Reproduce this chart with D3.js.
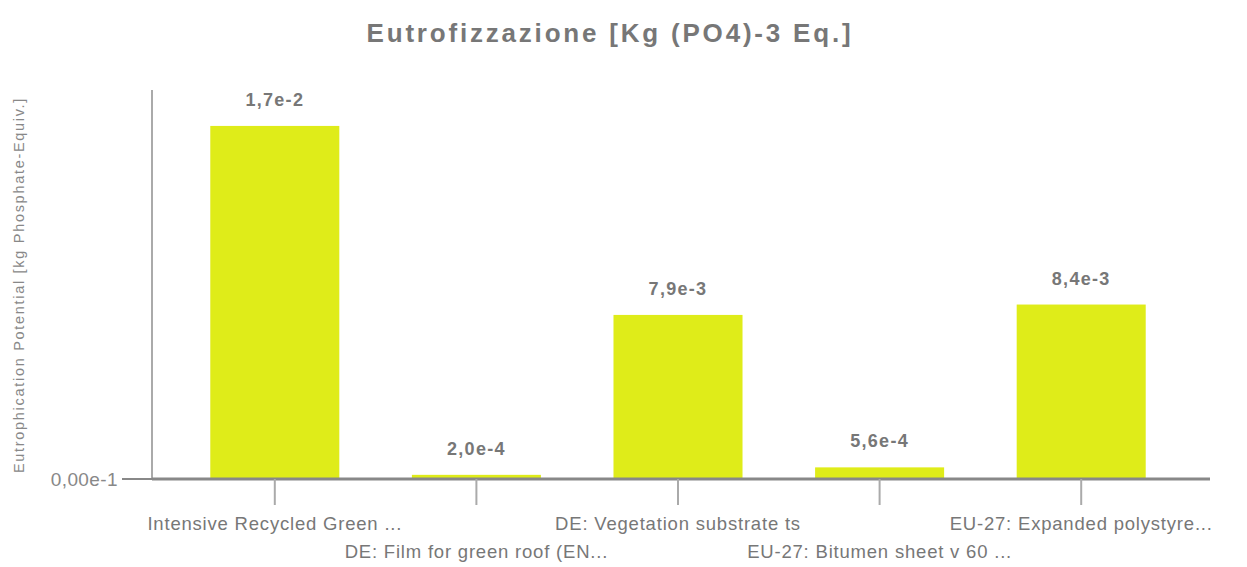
<!DOCTYPE html>
<html>
<head>
<meta charset="utf-8">
<script src="https://cdn.jsdelivr.net/npm/d3@7"></script>
<style>
  body { margin: 0; background: #fff; }
  text { font-family: "Liberation Sans", Arial, sans-serif; }
</style>
</head>
<body>
<svg id="chart" width="1247" height="567"></svg>
<script>
// chart data
const categories = [
  "Intensive Recycled Green ...",
  "DE: Film for green roof (EN...",
  "DE: Vegetation substrate ts",
  "EU-27: Bitumen sheet v 60 ...",
  "EU-27: Expanded polystyre..."
];
const values = [0.0170, 0.00020, 0.0079, 0.00056, 0.0084];
const valueLabels = ["1,7e-2", "2,0e-4", "7,9e-3", "5,6e-4", "8,4e-3"];
const yTickLabel = "0,00e-1";

const svg = d3.select("#chart");

// scales
const xScale = d3.scaleBand()
    .domain(categories)
    .range([174, 1182])
    .paddingInner(0.36)
    .paddingOuter(0.18);

const yScale = d3.scaleLinear()
    .domain([0, 0.01873])
    .range([479, 90]);

// title
svg.append("text")
    .attr("x", 610)
    .attr("y", 42)
    .attr("text-anchor", "middle")
    .attr("font-size", 26)
    .attr("font-weight", "bold")
    .attr("letter-spacing", 2.8)
    .attr("fill", "#777")
    .text("Eutrofizzazione [Kg (PO4)-3 Eq.]");

// y axis label
svg.append("text")
    .attr("transform", `translate(24,${285}) rotate(-90)`)
    .attr("text-anchor", "middle")
    .attr("font-size", 14.5)
    .attr("letter-spacing", 1.7)
    .attr("fill", "#888")
    .text("Eutrophication Potential [kg Phosphate-Equiv.]");

// bars
svg.selectAll(".bar")
    .data(values)
    .join("rect")
    .attr("class", "bar")
    .attr("x", (d, i) => xScale(categories[i]))
    .attr("width", xScale.bandwidth())
    .attr("y", d => yScale(d))
    .attr("height", d => yScale(0) - yScale(d))
    .attr("fill", "#dfec19");

// value labels
svg.selectAll(".val")
    .data(values)
    .join("text")
    .attr("class", "val")
    .attr("x", (d, i) => xScale(categories[i]) + xScale.bandwidth() / 2)
    .attr("y", d => yScale(d) - 20)
    .attr("text-anchor", "middle")
    .attr("font-size", 18)
    .attr("font-weight", "bold")
    .attr("letter-spacing", 1.3)
    .attr("fill", "#777")
    .text((d, i) => valueLabels[i]);

// y axis line
svg.append("line")
    .attr("x1", 152).attr("x2", 152)
    .attr("y1", 90).attr("y2", 480)
    .attr("stroke", "#aaa")
    .attr("stroke-width", 2);

// y tick
svg.append("line")
    .attr("x1", 122).attr("x2", 152)
    .attr("y1", yScale(0)).attr("y2", yScale(0))
    .attr("stroke", "#888")
    .attr("stroke-width", 2);
svg.append("text")
    .attr("x", 118)
    .attr("y", yScale(0) + 7)
    .attr("text-anchor", "end")
    .attr("font-size", 19)
    .attr("letter-spacing", 0.4)
    .attr("fill", "#888")
    .text(yTickLabel);

// x axis
const xAxis = svg.append("g")
    .attr("transform", `translate(0,${yScale(0)})`)
    .call(d3.axisBottom(xScale).tickSize(26).tickSizeOuter(0));

xAxis.select(".domain")
    .attr("d", "M152,0H1210")
    .attr("stroke", "#888")
    .attr("stroke-width", 3);

xAxis.selectAll(".tick line")
    .attr("stroke", "#aaa")
    .attr("stroke-width", 2);

xAxis.selectAll(".tick text")
    .attr("y", (d, i) => i % 2 === 0 ? 51 : 79)
    .attr("dy", 0)
    .attr("font-size", 18.5)
    .attr("letter-spacing", 0.8)
    .attr("font-family", "Liberation Sans, Arial, sans-serif")
    .attr("fill", "#777");
</script>
</body>
</html>
